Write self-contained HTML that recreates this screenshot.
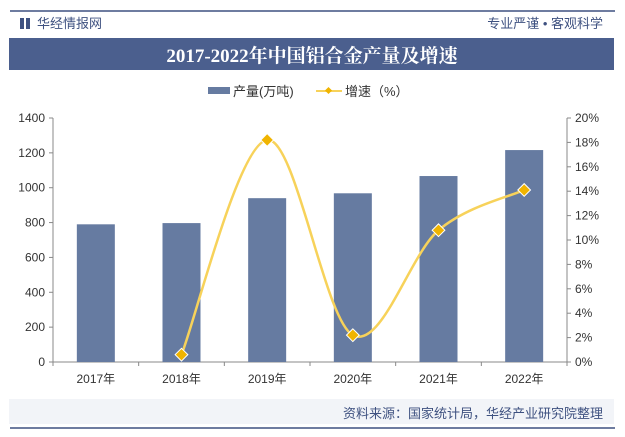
<!DOCTYPE html>
<html><head><meta charset="utf-8"><style>
body{margin:0;background:#fff;font-family:"Liberation Sans","Noto Sans CJK SC",sans-serif;}
#wrap{position:relative;width:625px;height:437px;overflow:hidden;background:#fff;}
</style></head><body>
<div id="wrap">
<svg id="svg" width="625" height="437" xmlns="http://www.w3.org/2000/svg">
<line x1="10" y1="11" x2="615" y2="11" stroke="#3e5180" stroke-width="1.5"/>
<rect x="20" y="18" width="4" height="11" fill="#3e5180"/>
<rect x="26" y="18" width="4" height="11" fill="#3e5180"/>
<text x="37" y="28" font-size="13" fill="#3e5180">华经情报网</text>
<text x="603" y="28" font-size="13" fill="#3e5180" text-anchor="end">专业严谨 • 客观科学</text>
<rect x="9" y="38" width="605" height="32" fill="#4b5f8e"/>
<text x="312" y="62" font-size="19" font-weight="bold" fill="#fff" text-anchor="middle" font-family="'Liberation Serif','Noto Serif CJK SC',serif">2017-2022年中国铝合金产量及增速</text>
<g>
<rect x="208" y="87" width="22" height="7" fill="#667ba1"/>
<text x="233" y="96" font-size="13" fill="#333">产量(万吨)</text>
<line x1="316" y1="91" x2="342" y2="91" stroke="#f7d25a" stroke-width="2"/>
<rect x="326" y="88" width="5" height="5" fill="#f0b400" transform="rotate(45 328.5 90.5)"/>
<text x="345" y="96" font-size="13" fill="#333">增速（%）</text>
</g>
<g id="plot"></g>
<rect x="9" y="399" width="605" height="25" fill="#f2f4f8"/>
<text x="603" y="418" font-size="13" fill="#3e5180" text-anchor="end">资料来源：国家统计局，华经产业研究院整理</text>
<line x1="10" y1="428" x2="615" y2="428" stroke="#3e5180" stroke-width="1.5"/>
</svg>
</div>
<script>
const categories=["2017年","2018年","2019年","2020年","2021年","2022年"];
const outputValues=[790,797,940,968,1067,1216];
const growthValues=[null,0.6,18.2,2.2,10.8,14.1];
const leftTicks=[0,200,400,600,800,1000,1200,1400];
const rightTicks=[0,2,4,6,8,10,12,14,16,18,20];
const NS="http://www.w3.org/2000/svg";
const g=document.getElementById('plot');
const X0=53,X1=567,Y0=362,Y1=118;
const band=(X1-X0)/categories.length;
const xc=i=>X0+band*(i+0.5);
const yL=v=>Y0-(v/1400)*(Y0-Y1);
const yR=v=>Y0-(v/20)*(Y0-Y1);
function mk(t,a){const e=document.createElementNS(NS,t);for(const k in a)e.setAttribute(k,a[k]);g.appendChild(e);return e;}
let e=mk('line',{x1:X0,y1:Y0,x2:X1,y2:Y0,stroke:'#888'});


e=mk('line',{x1:X0,y1:Y1,x2:X0,y2:Y0,stroke:'#888'});


e=mk('line',{x1:X1,y1:Y1,x2:X1,y2:Y0,stroke:'#888'});


leftTicks.forEach(v=>{mk('line',{x1:X0-4,y1:yL(v),x2:X0,y2:yL(v),stroke:'#888'});
 e=mk('text',{x:X0-8,y:yL(v)+4,'font-size':12,fill:'#333','text-anchor':'end'});e.textContent=v;
 
 });
rightTicks.forEach(v=>{mk('line',{x1:X1,y1:yR(v),x2:X1+4,y2:yR(v),stroke:'#888'});
 e=mk('text',{x:X1+8,y:yR(v)+4,'font-size':12,fill:'#333'});e.textContent=v+'%';
 
 });
for(let i=0;i<=categories.length;i++)mk('line',{x1:X0+band*i,y1:Y0,x2:X0+band*i,y2:Y0+4,stroke:'#888'});
categories.forEach((c,i)=>{e=mk('text',{x:xc(i),y:Y0+21,'font-size':12,fill:'#333','text-anchor':'middle'});e.textContent=c;
 
 });
outputValues.forEach((v,i)=>{e=mk('rect',{x:xc(i)-19,y:yL(v),width:38,height:Y0-yL(v),fill:'#667ba1'});
 
 });
const pts=[];growthValues.forEach((v,i)=>{if(v!==null)pts.push([xc(i),yR(v)]);});
let d='M'+pts[0][0]+','+pts[0][1];
for(let i=0;i<pts.length-1;i++){const p0=pts[i-1]||pts[i],p1=pts[i],p2=pts[i+1],p3=pts[i+2]||p2;const t=0.5/1;
 const c1=[p1[0]+(p2[0]-p0[0])/6,p1[1]+(p2[1]-p0[1])/6],c2=[p2[0]-(p3[0]-p1[0])/6,p2[1]-(p3[1]-p1[1])/6];
 d+=' C'+c1+' '+c2+' '+p2;}
e=mk('path',{d:d,fill:'none',stroke:'#f7d25a','stroke-width':2.5});


pts.forEach((p,i)=>{e=mk('rect',{x:p[0]-4.5,y:p[1]-4.5,width:9,height:9,fill:'#f0b400',stroke:'#fff','stroke-width':1,transform:'rotate(45 '+p[0]+' '+p[1]+')'});
 
 });
</script>
</body></html>
